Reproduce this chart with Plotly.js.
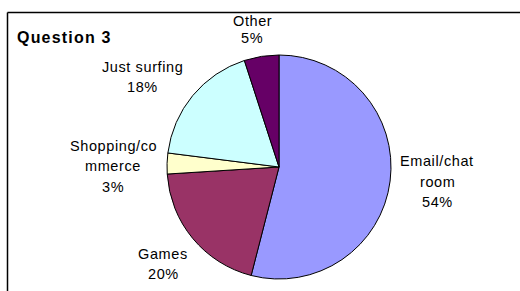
<!DOCTYPE html>
<html>
<head>
<meta charset="utf-8">
<script src="https://cdn.plot.ly/plotly-3.0.1.min.js"></script>
<style>
html,body{margin:0;padding:0;background:#fff;}
#chart{width:520px;height:291px;}
.annotation-text{letter-spacing:0.6px;}
</style>
</head>
<body>
<div id="chart"></div>
<script>
// Data
var categories = ["Email/chat room", "Games", "Shopping/commerce", "Just surfing", "Other"];
var labelLines = [["Email/chat", "room"], ["Games"], ["Shopping/co", "mmerce"], ["Just surfing"], ["Other"]];
var values = [54, 20, 3, 18, 5];
var colors = ["#9999FF", "#993366", "#FFFFCC", "#CCFFFF", "#660066"];
var chartTitle = "Question 3";

var W = 520, H = 291;
function px(x) { return x / W; }
function py(y) { return 1 - y / H; }

// Pie geometry (pixels)
var cx = 279, cy = 167, r = 112;

// Label block positions: center x, first-line center y, line spacing
var labelPos = [
  {x: 437, y: 161, dy: 20.5},
  {x: 163, y: 254, dy: 19.5},
  {x: 113, y: 145.5, dy: 20.5},
  {x: 142, y: 67, dy: 20},
  {x: 252, y: 21, dy: 17}
];

var total = values.reduce(function (a, b) { return a + b; }, 0);
var annotations = [];
categories.forEach(function (c, i) {
  var lines = labelLines[i].concat([Math.round(values[i] / total * 100) + "%"]);
  lines.forEach(function (t, j) {
    annotations.push({
      text: t, showarrow: false, xref: "paper", yref: "paper",
      x: px(labelPos[i].x), y: py(labelPos[i].y + j * labelPos[i].dy),
      xanchor: "center", yanchor: "middle",
      font: {family: "Liberation Sans, Arial, sans-serif", size: 14.5, color: "#000"}
    });
  });
});
annotations.push({
  text: "<b><span style=\"letter-spacing:1.2px\">" + chartTitle + "</span></b>", showarrow: false, xref: "paper", yref: "paper",
  x: px(15), y: py(37), xanchor: "left", yanchor: "middle",
  font: {family: "Liberation Sans, Arial, sans-serif", size: 16, color: "#000"}
});

var trace = {
  type: "pie",
  labels: categories,
  values: values,
  sort: false,
  direction: "clockwise",
  rotation: 0,
  textinfo: "none",
  hoverinfo: "label+percent",
  marker: {colors: colors, line: {color: "#000", width: 1}},
  domain: {x: [px(cx - r), px(cx + r)], y: [py(cy + r), py(cy - r)]},
  showlegend: false
};

var layout = {
  width: W, height: H,
  margin: {l: 0, r: 0, t: 0, b: 0},
  paper_bgcolor: "#fff",
  showlegend: false,
  annotations: annotations,
  shapes: [
    {type: "line", xref: "paper", yref: "paper", x0: px(7.5), x1: px(7.5), y0: 0, y1: py(12.5), line: {color: "#000", width: 1.5}},
    {type: "line", xref: "paper", yref: "paper", x0: px(7.5), x1: 1, y0: py(12.5), y1: py(12.5), line: {color: "#000", width: 1.5}}
  ]
};

Plotly.newPlot("chart", [trace], layout, {displayModeBar: false, staticPlot: true});
</script>
</body>
</html>
